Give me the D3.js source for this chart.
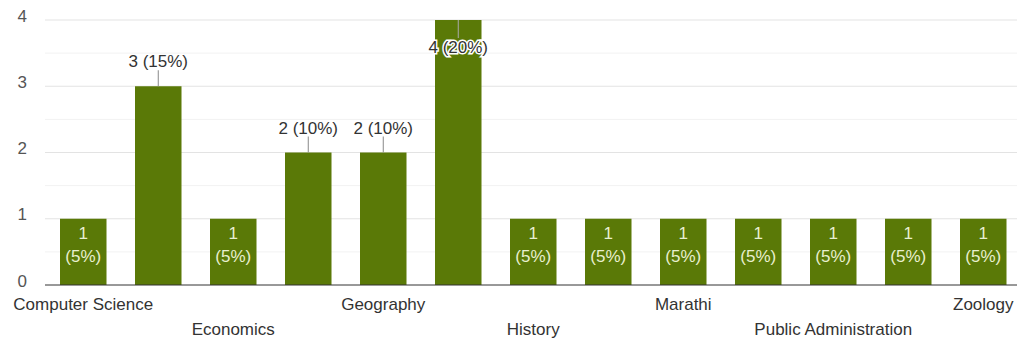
<!DOCTYPE html>
<html>
<head>
<meta charset="utf-8">
<script src="https://cdn.jsdelivr.net/npm/d3@7"></script>
<style>
  html, body { margin: 0; padding: 0; background: #fff; }
  #chart { width: 1017px; height: 339px; }
  text { font-family: "Liberation Sans", Arial, sans-serif; }
</style>
</head>
<body>
<div id="chart"></div>
<script>
// Responses per subject (only every other label is shown on the axis)
const CATEGORIES = [
  'Computer Science', 'Data Science', 'Economics', 'English', 'Geography',
  'Hindi', 'History', 'Law', 'Marathi', 'Political Science',
  'Public Administration', 'Sociology', 'Zoology'
];
const COUNTS = [1, 3, 1, 2, 2, 4, 1, 1, 1, 1, 1, 1, 1];
const TOTAL = 20;
const Y_TICKS = [0, 1, 2, 3, 4];
const Y_MINOR = [0.5, 1.5, 2.5, 3.5];

const WIDTH = 1017, HEIGHT = 339;
const MARGIN = { top: 20, right: 0, bottom: 54, left: 45 };
const BAR = '#5a7907';
const FS = '17px';

const innerW = WIDTH - MARGIN.left - MARGIN.right;
const innerH = HEIGHT - MARGIN.top - MARGIN.bottom;

const svg = d3.select('#chart').append('svg')
  .attr('width', WIDTH)
  .attr('height', HEIGHT);

const g = svg.append('g')
  .attr('transform', `translate(${MARGIN.left},${MARGIN.top})`);

// band range runs slightly past the right edge, as in the original
const x = d3.scaleBand().domain(CATEGORIES).range([0, 976.5]).paddingInner(0.38).paddingOuter(0.2);
const y = d3.scaleLinear().domain([0, 4]).range([innerH, 0]);

// gridlines
g.selectAll('.minor').data(Y_MINOR).join('line')
  .attr('x1', 0).attr('x2', innerW)
  .attr('y1', d => y(d)).attr('y2', d => y(d))
  .attr('stroke', '#f2f2f2');
g.selectAll('.major').data(Y_TICKS.slice(1)).join('line')
  .attr('x1', 0).attr('x2', innerW)
  .attr('y1', d => y(d)).attr('y2', d => y(d))
  .attr('stroke', '#e3e3e3');

// y tick labels
g.selectAll('.ytick').data(Y_TICKS).join('text')
  .attr('x', -18)
  .attr('y', d => y(d))
  .attr('dy', '0.1em')
  .attr('text-anchor', 'end')
  .style('font-size', FS)
  .style('fill', '#555')
  .text(d => d);

// bars
const data = CATEGORIES.map((c, i) => ({ cat: c, value: COUNTS[i], i }));

g.selectAll('.bar').data(data).join('rect')
  .attr('x', d => x(d.cat))
  .attr('y', d => y(d.value))
  .attr('width', x.bandwidth())
  .attr('height', d => innerH - y(d.value))
  .attr('fill', BAR);

// baseline
g.append('line')
  .attr('x1', 0).attr('x2', innerW)
  .attr('y1', innerH).attr('y2', innerH)
  .attr('stroke', '#333').attr('stroke-width', 1);

const pct = d => `${Math.round(d.value / TOTAL * 100)}%`;
const cx = d => x(d.cat) + x.bandwidth() / 2;

// small values: two-line label inside the bar
data.filter(d => d.value === 1).forEach(d => {
  const t = g.append('text')
    .attr('text-anchor', 'middle')
    .style('font-size', FS)
    .style('fill', '#e9efcf');
  t.append('tspan').attr('x', cx(d)).attr('y', y(d.value) + 20).text(d.value);
  t.append('tspan').attr('x', cx(d)).attr('y', y(d.value) + 43).text(`(${pct(d)})`);
});

// mid values: label above with leader line
data.filter(d => d.value > 1 && d.value < 4).forEach(d => {
  g.append('line')
    .attr('x1', cx(d)).attr('x2', cx(d))
    .attr('y1', y(d.value)).attr('y2', y(d.value) - 16)
    .attr('stroke', '#888');
  g.append('text')
    .attr('x', cx(d)).attr('y', y(d.value) - 19)
    .attr('text-anchor', 'middle')
    .style('font-size', FS)
    .style('fill', '#333')
    .text(`${d.value} (${pct(d)})`);
});

// max value: label sits inside top of bar with halo
data.filter(d => d.value === 4).forEach(d => {
  g.append('line')
    .attr('x1', cx(d)).attr('x2', cx(d))
    .attr('y1', y(d.value)).attr('y2', y(d.value) + 18)
    .attr('stroke', '#aaa');
  g.append('text')
    .attr('x', cx(d)).attr('y', y(d.value) + 33)
    .attr('text-anchor', 'middle')
    .style('font-size', FS)
    .style('fill', '#333')
    .style('stroke', '#fff')
    .style('stroke-width', 3)
    .style('paint-order', 'stroke')
    .text(`${d.value} (${pct(d)})`);
});

// x labels: every other category, alternating rows
data.filter(d => d.i % 2 === 0).forEach(d => {
  const row = (d.i / 2) % 2;
  g.append('text')
    .attr('x', cx(d))
    .attr('y', innerH + 25 + row * 25)
    .attr('text-anchor', 'middle')
    .style('font-size', FS)
    .style('fill', '#333')
    .text(d.cat);
});
</script>
</body>
</html>
